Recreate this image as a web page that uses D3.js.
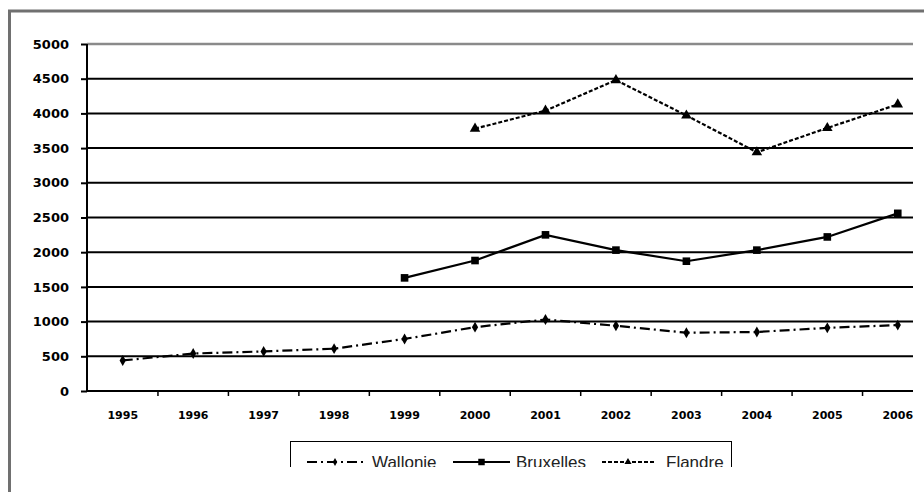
<!DOCTYPE html>
<html>
<head>
<meta charset="utf-8">
<script src="https://cdn.jsdelivr.net/npm/d3@7"></script>
<style>
  body { margin: 0; background: #fff; }
  svg { display: block; }
</style>
</head>
<body>
<div id="vis"></div>
<script>
// data
const years = [1995, 1996, 1997, 1998, 1999, 2000, 2001, 2002, 2003, 2004, 2005, 2006];
const wallonie = [440, 540, 570, 610, 750, 920, 1030, 940, 840, 850, 910, 950];
const bruxelles = [null, null, null, null, 1630, 1880, 2250, 2030, 1870, 2030, 2220, 2560];
const flandre = [null, null, null, null, null, 3780, 4040, 4480, 3970, 3440, 3790, 4130];
const yTicks = [0, 500, 1000, 1500, 2000, 2500, 3000, 3500, 4000, 4500, 5000];

const width = 924;
const height = 492;
const plotLeft = 87;
const plotRight = 913;
const plotTop = 44;
const plotBottom = 391;

const svg = d3.select('#vis')
    .append('svg')
    .attr('width', width)
    .attr('height', height);

const x = d3.scaleBand()
    .domain(years)
    .range([87.5, 933])
    .padding(0);

const y = d3.scaleLinear()
    .domain([0, 5000])
    .range([plotBottom, plotTop]);

const cx = d => x(d) + x.bandwidth() / 2;

// outer frame (runs off the right and bottom edge)
svg.append('rect')
    .attr('x', 9.5)
    .attr('y', 11)
    .attr('width', 960)
    .attr('height', 520)
    .attr('fill', 'none')
    .attr('stroke', '#707070')
    .attr('stroke-width', 3);

// gridlines
svg.append('g')
    .selectAll('line')
    .data(yTicks.filter(d => d > 0))
    .join('line')
    .attr('x1', plotLeft)
    .attr('x2', plotRight)
    .attr('y1', d => y(d))
    .attr('y2', d => y(d))
    .attr('stroke', d => d == 5000 ? '#8a8a8a' : '#000')
    .attr('stroke-width', d => d == 5000 ? 2.5 : 2);

// y axis
const yAxis = svg.append('g')
    .attr('transform', 'translate(' + plotLeft + ',0)')
    .call(d3.axisLeft(y).tickValues(yTicks).tickSize(6).tickPadding(12).tickFormat(d => d));
yAxis.select('.domain').remove();
yAxis.selectAll('.tick line')
    .attr('stroke', '#000')
    .attr('stroke-width', 2);
yAxis.selectAll('text')
    .attr('font-family', 'DejaVu Sans')
    .attr('font-weight', 'bold')
    .attr('font-size', '13px')
    .attr('fill', '#000');

svg.append('line')
    .attr('x1', plotLeft)
    .attr('x2', plotLeft)
    .attr('y1', plotTop)
    .attr('y2', plotBottom + 1)
    .attr('stroke', '#000')
    .attr('stroke-width', 2);

// x axis
svg.append('line')
    .attr('x1', plotLeft)
    .attr('x2', plotRight)
    .attr('y1', plotBottom)
    .attr('y2', plotBottom)
    .attr('stroke', '#000')
    .attr('stroke-width', 2);

svg.append('g')
    .selectAll('line')
    .data(years.slice(1))
    .join('line')
    .attr('x1', d => x(d))
    .attr('x2', d => x(d))
    .attr('y1', plotBottom)
    .attr('y2', plotBottom + 5)
    .attr('stroke', '#000')
    .attr('stroke-width', 1.5);

const xAxis = svg.append('g')
    .attr('transform', 'translate(0,' + plotBottom + ')')
    .call(d3.axisBottom(x).tickSize(0).tickPadding(20));
xAxis.select('.domain').remove();
xAxis.selectAll('text')
    .attr('font-family', 'DejaVu Sans')
    .attr('font-weight', 'bold')
    .attr('font-size', '11px')
    .attr('fill', '#000');

// series
const series = [
    { name: 'Wallonie', values: wallonie, dash: '10,4,2,4', marker: 'diamond' },
    { name: 'Bruxelles', values: bruxelles, dash: null, marker: 'square' },
    { name: 'Flandre', values: flandre, dash: '4,2', marker: 'triangle' }
];

const symbols = {
    diamond: d3.symbol().type(d3.symbolDiamond).size(34),
    square: d3.symbol().type(d3.symbolSquare).size(58),
    triangle: d3.symbol().type(d3.symbolTriangle).size(48)
};

const legendSymbols = {
    diamond: d3.symbol().type(d3.symbolDiamond).size(18),
    square: d3.symbol().type(d3.symbolSquare).size(42),
    triangle: d3.symbol().type(d3.symbolTriangle).size(22)
};

const line = d3.line()
    .defined(d => d[1] != null)
    .x(d => cx(d[0]))
    .y(d => y(d[1]));

for (var i = 0; i < series.length; i++) {
    const s = series[i];
    const pts = years.map((yr, j) => [yr, s.values[j]]);

    svg.append('path')
        .datum(pts)
        .attr('d', line)
        .attr('fill', 'none')
        .attr('stroke', '#000')
        .attr('stroke-width', 2.2)
        .attr('stroke-dasharray', s.dash);

    svg.append('g')
        .selectAll('path')
        .data(pts.filter(d => d[1] != null))
        .join('path')
        .attr('transform', d => 'translate(' + cx(d[0]) + ',' + y(d[1]) + ')')
        .attr('d', symbols[s.marker])
        .attr('fill', '#000');
}

// legend, cut off at the bottom like in the picture
svg.append('clipPath')
    .attr('id', 'legend-clip')
    .append('rect')
    .attr('x', 280)
    .attr('y', 430)
    .attr('width', 470)
    .attr('height', 37);

const lg = svg.append('g')
    .attr('clip-path', 'url(#legend-clip)');

lg.append('rect')
    .attr('x', 290.5)
    .attr('y', 441.5)
    .attr('width', 441)
    .attr('height', 60)
    .attr('fill', '#fff')
    .attr('stroke', '#000')
    .attr('stroke-width', 1);

const legendItems = [
    { lx1: 307, lx2: 363, tx: 372 },
    { lx1: 453, lx2: 510, tx: 516 },
    { lx1: 602, lx2: 654, tx: 666 }
];

for (var i = 0; i < series.length; i++) {
    const s = series[i];
    const it = legendItems[i];

    lg.append('line')
        .attr('x1', it.lx1)
        .attr('x2', it.lx2)
        .attr('y1', 462)
        .attr('y2', 462)
        .attr('stroke', '#000')
        .attr('stroke-width', 2)
        .attr('stroke-dasharray', s.dash);

    lg.append('path')
        .attr('transform', 'translate(' + ((it.lx1 + it.lx2) / 2) + ',462)')
        .attr('d', legendSymbols[s.marker])
        .attr('fill', '#000');

    lg.append('text')
        .attr('x', it.tx)
        .attr('y', 468)
        .attr('font-family', 'Liberation Sans')
        .attr('font-size', '17px')
        .attr('fill', '#222')
        .text(s.name);
}
</script>
</body>
</html>
